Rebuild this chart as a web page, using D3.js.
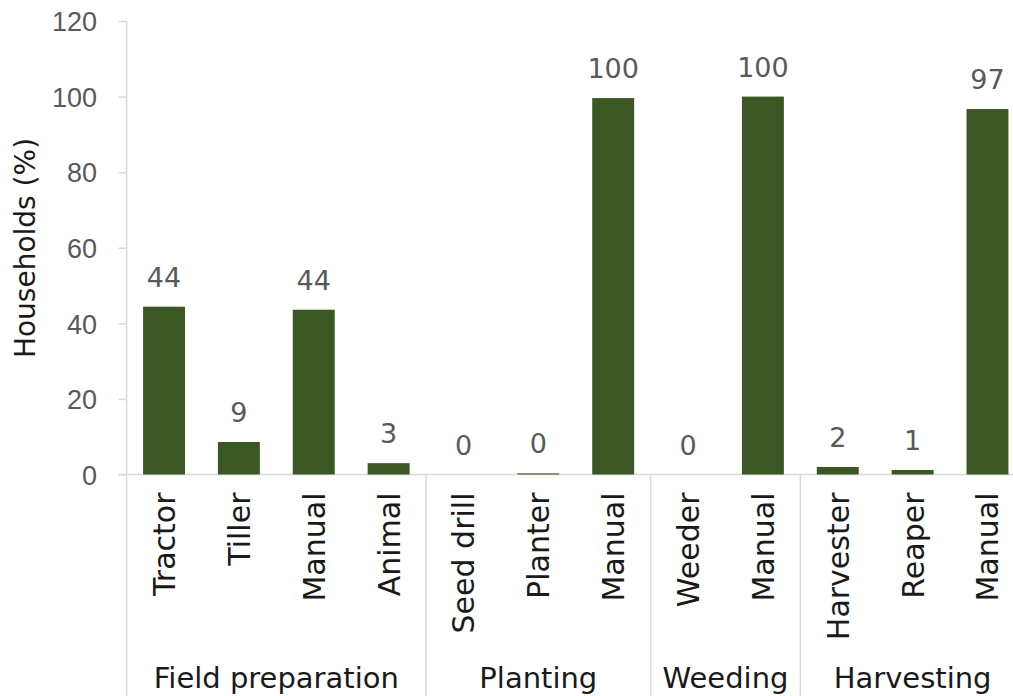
<!DOCTYPE html>
<html>
<head>
<meta charset="utf-8">
<script src="https://cdn.jsdelivr.net/npm/d3@7"></script>
<style>
  html, body { margin: 0; padding: 0; background: #fff; }
  svg { display: block; font-family: "DejaVu Sans", sans-serif; }
</style>
</head>
<body>
<svg id="chart" width="1013" height="696"></svg>
<script>
// Farm operation methods by household share
const categories = ["Tractor", "Tiller", "Manual", "Animal", "Seed drill", "Planter", "Manual", "Weeder", "Manual", "Harvester", "Reaper", "Manual"];
const values = [44.4, 8.6, 43.6, 3.0, 0, 0.3, 99.6, 0, 100, 2.0, 1.2, 96.7];
const valueLabels = ["44", "9", "44", "3", "0", "0", "100", "0", "100", "2", "1", "97"];
const groups = ["Field preparation", "Planting", "Weeding", "Harvesting"];
const groupSizes = [4, 3, 2, 3];
const yTicks = [0, 20, 40, 60, 80, 100, 120];

const svg = d3.select("#chart");
const margin = { left: 126.6, top: 21, bottom: 474.5 };
const keys = categories.map((c, i) => i);

const x = d3.scaleBand()
  .domain(keys)
  .range([margin.left, margin.left + 12 * 74.86])
  .paddingInner(0.44)
  .paddingOuter(0.22);

const y = d3.scaleLinear().domain([0, 120]).range([margin.bottom, margin.top]);

const gridColor = "#d9d9d9";
const barColor = "#3b5723";

// y axis
const yAxis = svg.append("g")
  .attr("transform", `translate(${margin.left},0)`)
  .call(d3.axisLeft(y).tickValues(yTicks).tickSize(8).tickPadding(21.5));
yAxis.select(".domain").attr("stroke", gridColor).attr("stroke-width", 1.5).attr("d", `M0,${y(120)}V696`);
yAxis.selectAll(".tick line").attr("stroke", gridColor).attr("stroke-width", 1.5);
yAxis.selectAll(".tick text")
  .attr("fill", "#595959")
  .style("font-size", "27px")
  .attr("dy", "0.36em");

// baseline
svg.append("line")
  .attr("x1", margin.left - 8).attr("x2", 1013)
  .attr("y1", y(0)).attr("y2", y(0))
  .attr("stroke", gridColor).attr("stroke-width", 1.5);

// group separators and labels
let start = 0;
const step = x.step();
const bandStart = x.range()[0];
groupSizes.forEach((n, gi) => {
  const gx0 = bandStart + start * step;
  const gx1 = bandStart + (start + n) * step;
  if (gi > 0) {
    svg.append("line")
      .attr("x1", gx0).attr("x2", gx0)
      .attr("y1", y(0)).attr("y2", 696)
      .attr("stroke", gridColor).attr("stroke-width", 1.5);
  }
  svg.append("text")
    .attr("x", (gx0 + gx1) / 2)
    .attr("y", 688)
    .attr("text-anchor", "middle")
    .attr("fill", "#1a1a1a")
    .style("font-size", "29px")
    .text(groups[gi]);
  start += n;
});

// bars
svg.append("g").selectAll("rect")
  .data(values)
  .join("rect")
  .attr("x", (d, i) => x(i))
  .attr("width", x.bandwidth())
  .attr("y", d => y(d))
  .attr("height", d => y(0) - y(d))
  .attr("fill", barColor);

// value labels
svg.append("g").selectAll("text")
  .data(values)
  .join("text")
  .attr("x", (d, i) => x(i) + x.bandwidth() / 2)
  .attr("y", d => y(d) - 20)
  .attr("text-anchor", "middle")
  .attr("fill", "#595959")
  .style("font-size", "27px")
  .text((d, i) => valueLabels[i]);

// category labels
svg.append("g").selectAll("text")
  .data(categories)
  .join("text")
  .attr("transform", (d, i) => `translate(${x(i) + x.bandwidth() / 2 + 11},${y(0) + 18}) rotate(-90)`)
  .attr("text-anchor", "end")
  .attr("fill", "#1a1a1a")
  .style("font-size", "30px")
  .text(d => d);

// y axis title
svg.append("text")
  .attr("transform", `translate(35,248) rotate(-90)`)
  .attr("text-anchor", "middle")
  .attr("fill", "#1a1a1a")
  .style("font-size", "28px")
  .text("Households (%)");
</script>
</body>
</html>
